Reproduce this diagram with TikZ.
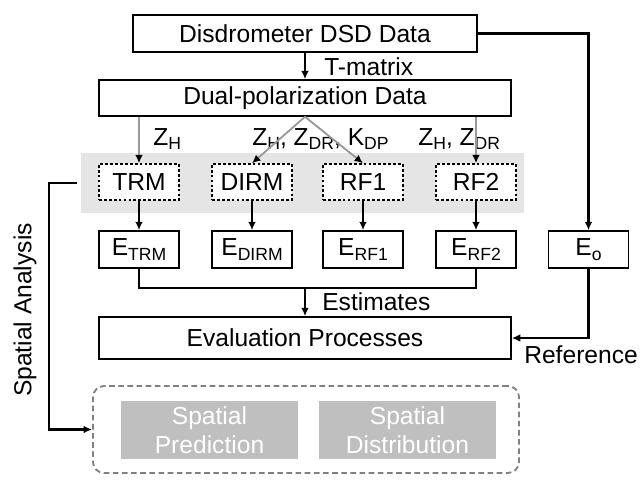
\documentclass[tikz,border=0pt]{standalone}
\usepackage{fontspec}
\setmainfont{Liberation Sans}
\usepackage{tikz}
\usetikzlibrary{shapes, arrows.meta, positioning}

\newcommand{\lowsub}[1]{\raisebox{-3.5pt}{\fontsize{12.5}{14}\selectfont #1}}

\begin{document}
\begin{tikzpicture}[x=0.025cm, y=-0.025cm,
    font=\fontsize{17.5}{19}\selectfont,
    box/.style={draw, rectangle, line width=1.1pt, inner sep=0pt},
    model/.style={draw, rectangle, dash pattern=on 2pt off 1.5pt, line width=1pt, fill=white, minimum width=2cm, minimum height=0.9cm, inner sep=0pt},
    est/.style={box, minimum width=2cm, minimum height=0.925cm},
    conn/.style={-{Latex[length=6pt,width=5.5pt]}, line width=1.5pt},
    feed/.style={-{Latex[length=6pt,width=5.5pt,color=black]}, line width=1.3pt, draw=black!40},
    spbox/.style={rectangle, fill=black!25, text=white, align=center, minimum width=4.425cm, minimum height=1.45cm, inner sep=0pt, font=\fontsize{17.5}{21}\selectfont}]
    \useasboundingbox (0,0) rectangle (640,481);

    % data sources
    \node[box, minimum width=8.6cm, minimum height=0.925cm] (dsd) at (305,33.5) {Disdrometer DSD Data};
    \node[box, minimum width=10.3cm, minimum height=0.9cm] (dual) at (305,98) {Dual-polarization Data};

    % retrieval models
    \node[rectangle, fill=black!10, minimum width=11.075cm, minimum height=1.5cm, inner sep=0pt] (band) at (302.5,183) {};
    \node[model] (trm) at (139,182) {TRM};
    \node[model] (dirm) at (252,182) {DIRM};
    \node[model] (rf1) at (363,182) {RF1};
    \node[model] (rf2) at (476,182) {RF2};

    % estimates
    \node[est] (etrm) at (139,249.5) {E\lowsub{TRM}};
    \node[est] (edirm) at (252,249.5) {E\lowsub{DIRM}};
    \node[est] (erf1) at (363,249.5) {E\lowsub{RF1}};
    \node[est] (erf2) at (476,249.5) {E\lowsub{RF2}};
    \node[est] (eo) at (588.5,249.5) {E\lowsub{o}};

    \node[box, minimum width=10.3cm, minimum height=1.05cm] (eval) at (305,338) {Evaluation Processes};

    % spatial analysis
    \node[draw=black!50, line width=1.3pt, dash pattern=on 4pt off 2.5pt, rounded corners=8pt, rectangle, minimum width=10.65cm, minimum height=2.175cm] (spat) at (306,429.5) {};
    \node[spbox] (sp) at (209.5,430) {Spatial\\Prediction};
    \node[spbox] (sd) at (407.5,430) {Spatial\\Distribution};

    % labels
    \node[anchor=base west, inner sep=0pt] (tmat) at (324,75) {T-matrix};
    \node[anchor=base west, inner sep=0pt] (lzh) at (153,145) {Z\lowsub{H}};
    \node[anchor=base west, inner sep=0pt] (lall) at (252,145) {Z\lowsub{H}, Z\lowsub{DR}, K\lowsub{DP}};
    \node[anchor=base west, inner sep=0pt] (lzz) at (418,145) {Z\lowsub{H}, Z\lowsub{DR}};
    \node[anchor=base west, inner sep=0pt] (lest) at (322,310) {Estimates};
    \node[anchor=base west, inner sep=0pt] (lref) at (524,363) {Reference};
    \node[rotate=90] (lsa) at (25,310) {Spatial Analysis};

    % connectors
    \draw[conn] (dsd) -- (dual);
    \draw[conn] (dsd.east) -| (eo.north);
    \draw[feed] (trm |- dual.south) -- (trm.north);
    \draw[feed] (dual.south) -- (dirm.north);
    \draw[feed] (dual.south) -- (rf1.north);
    \draw[feed] (rf2 |- dual.south) -- (rf2.north);

    \draw[conn] (trm) -- (etrm);
    \draw[conn] (dirm) -- (edirm);
    \draw[conn] (rf1) -- (erf1);
    \draw[conn] (rf2) -- (erf2);

    \coordinate (bus) at (305,288);
    \draw[line width=1.5pt] (etrm.south) |- (bus) -| (erf2.south);
    \draw[conn] (bus) -- (eval.north);
    \draw[conn] (eo.south) |- (eval.east);

    \draw[conn] ([xshift=-0.1cm]band.west) -- ++(-28,0) |- (spat.west);
\end{tikzpicture}
\end{document}
